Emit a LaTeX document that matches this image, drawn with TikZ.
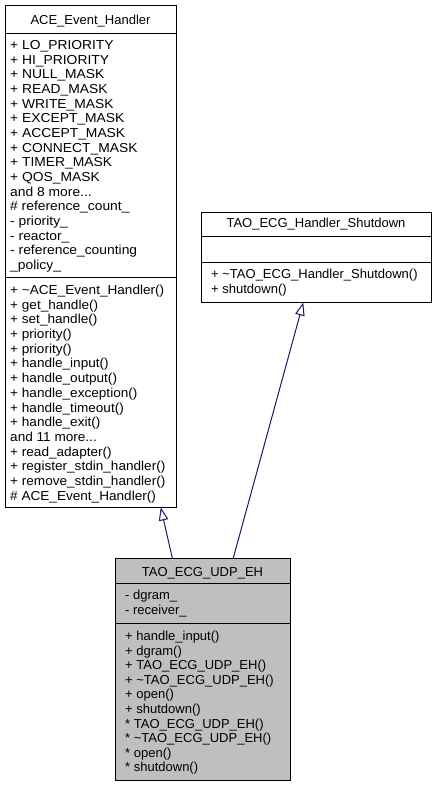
\documentclass[tikz,border=0pt]{standalone}
\usepackage{fontspec}
\setmainfont{Liberation Sans}
\newfontfamily\aceattrfont[FakeStretch=1.065]{Liberation Sans}
\newfontfamily\acemethfont[FakeStretch=1.045]{Liberation Sans}
\usetikzlibrary{arrows.meta}
\definecolor{edgeblue}{HTML}{191970}
\definecolor{boxgray}{HTML}{BFBFBF}
\newcommand\moredots{...}
\begin{document}
\begin{tikzpicture}[x=1pt,y=-1pt,
  classbox/.style={draw=black,line width=1pt,rectangle,inner sep=0pt,anchor=north west},
  sepline/.style={draw=black,line width=1pt},
  member/.style={anchor=base west,inner sep=0pt,font=\fontsize{13}{15}\selectfont},
  aceattr/.style={member,font=\aceattrfont\fontsize{13}{15}\selectfont},
  acemeth/.style={member,font=\acemethfont\fontsize{13}{15}\selectfont},
  classtitle/.style={anchor=base,inner sep=0pt,font=\fontsize{13}{15}\selectfont},
  inherit/.style={draw=edgeblue,line width=1pt,-{Triangle[open,length=13pt,width=9.5pt]}}]
\fill[white] (0,0) rectangle (436,787);
\useasboundingbox (0,0) rectangle (436,787);
% ACE_Event_Handler
\node[classbox,minimum width=171pt,minimum height=502pt] (ace) at (5,5) {};
\draw[sepline] (5,33) -- (176,33);
\draw[sepline] (5,277) -- (176,277);
\node[classtitle] (aceT) at (90.5,24) {ACE\_Event\_Handler};
\foreach \t [count=\i] in {+ LO\_PRIORITY, + HI\_PRIORITY, + NULL\_MASK, + READ\_MASK, + WRITE\_MASK, + EXCEPT\_MASK, + ACCEPT\_MASK, + CONNECT\_MASK, + TIMER\_MASK, + QOS\_MASK, and 8 more\moredots, \# reference\_count\_, - priority\_, - reactor\_, - reference\_counting, \_policy\_}
  \node[aceattr] (aceA\i) at (10,{49.5+14.67*(\i-1)}) {\t};
\foreach \t [count=\i] in {+ \textasciitilde ACE\_Event\_Handler(), + get\_handle(), + set\_handle(), + priority(), + priority(), + handle\_input(), + handle\_output(), + handle\_exception(), + handle\_timeout(), + handle\_exit(), and 11 more\moredots, + read\_adapter(), + register\_stdin\_handler(), + remove\_stdin\_handler(), \# ACE\_Event\_Handler()}
  \node[acemeth] (aceM\i) at (10,{294.3+14.72*(\i-1)}) {\t};
% TAO_ECG_Handler_Shutdown
\node[classbox,minimum width=230pt,minimum height=90pt] (shut) at (201,212) {};
\draw[sepline] (201,236) -- (431,236);
\draw[sepline] (201,262) -- (431,262);
\node[classtitle] (shutT) at (316,227.7) {TAO\_ECG\_Handler\_Shutdown};
\node[member] (shutM1) at (211,278.5) {+ \textasciitilde TAO\_ECG\_Handler\_Shutdown()};
\node[member] (shutM2) at (211,293) {+ shutdown()};
% TAO_ECG_UDP_EH
\node[classbox,fill=boxgray,minimum width=175pt,minimum height=221.5pt] (udp) at (115,558) {};
\draw[sepline] (115,583.3) -- (290,583.3);
\draw[sepline] (115,623.3) -- (290,623.3);
\node[classtitle] (udpT) at (202.5,576) {TAO\_ECG\_UDP\_EH};
\node[member] (udpA1) at (125,599.3) {- dgram\_};
\node[member] (udpA2) at (125,614.3) {- receiver\_};
\foreach \t [count=\i] in {+ handle\_input(), + dgram(), + TAO\_ECG\_UDP\_EH(), + \textasciitilde TAO\_ECG\_UDP\_EH(), + open(), + shutdown(), * TAO\_ECG\_UDP\_EH(), * \textasciitilde TAO\_ECG\_UDP\_EH(), * open(), * shutdown()}
  \node[member] (udpM\i) at (125,{640.7+14.56*(\i-1)}) {\t};
% inheritance connectors
\coordinate (aceIn) at (160.7,507.5);
\coordinate (shutIn) at (303.3,302.5);
\coordinate (udpOutA) at (172.3,558);
\coordinate (udpOutB) at (233.3,558);
\draw[inherit] (udpOutA) -- (aceIn);
\draw[inherit] (udpOutB) -- (shutIn);
\end{tikzpicture}
\end{document}
